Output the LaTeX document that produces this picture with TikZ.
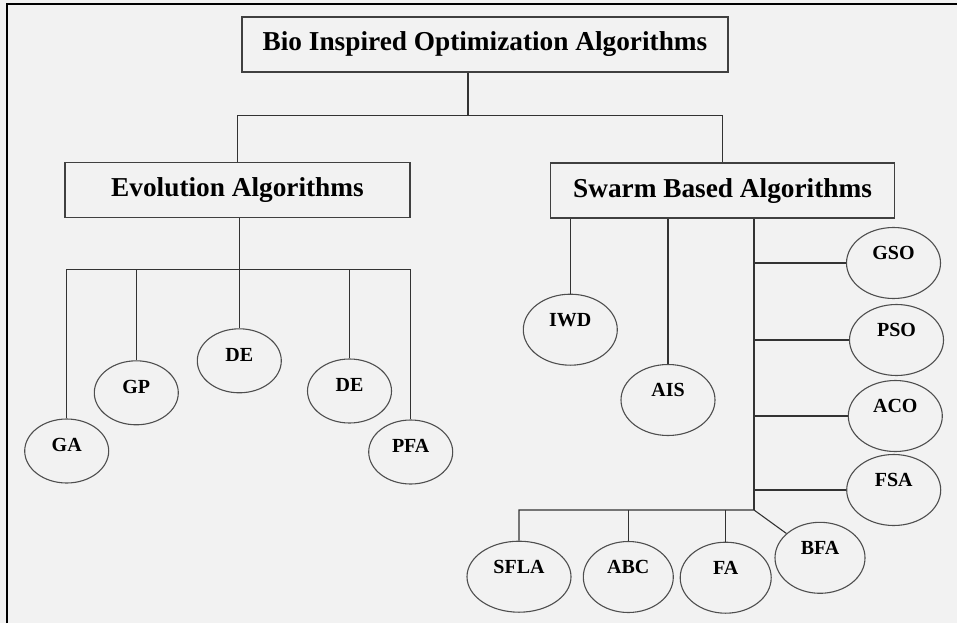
\documentclass[tikz,border=0pt]{standalone}
\usepackage{fontspec}
\setmainfont{Liberation Serif}
\usetikzlibrary{shapes.geometric,positioning}
\definecolor{paper}{HTML}{F2F2F2}
\definecolor{boxgray}{HTML}{404040}
\definecolor{wiregray}{HTML}{333333}
\definecolor{rimgray}{HTML}{4E4E4E}
\begin{document}
\begin{tikzpicture}[x=1pt, y=-1pt,
    head/.style = {rectangle, draw=boxgray, line width=1.3pt, inner sep=0pt,
        font=\bfseries\fontsize{27.3}{31}\selectfont, minimum height=55pt},
    leaf/.style = {ellipse, draw=rimgray, line width=1.1pt, inner sep=3pt,
        font=\bfseries\fontsize{20}{23}\selectfont, minimum width=94pt,
        minimum height=71pt, text height=13.5pt, text depth=20.9pt},
    eleaf/.style = {leaf, minimum width=84pt, minimum height=64pt, text depth=12.9pt},
    wire/.style = {draw=wiregray, line width=1.1pt}]
  \useasboundingbox (0,0) rectangle (957,623);
  \fill[paper] (0,0) rectangle (957,623);
  \draw[line width=2pt] (7,623) -- (7,4.5) -- (957,4.5);

  \node[head, minimum width=486pt] (bio) at (485,44.5) {Bio Inspired Optimization Algorithms};
  \node[head, minimum width=345pt] (evo) at (237.5,190.2) {Evolution Algorithms};
  \node[head, minimum width=344pt] (swarm) at (722.5,190.6) {Swarm Based Algorithms};
  \coordinate (hub) at (468,115.7);
  \draw[wire] (bio.south -| hub) -- (hub);
  \draw[wire] (evo.north) |- (hub) -| (swarm.north);

  \node[eleaf] (ga) at (66.7,451) {GA}; \node[eleaf] (gp) at (136.3,392.8) {GP};
  \node[eleaf] (de1) at (239.3,360.8) {DE}; \node[eleaf] (de2) at (349.5,391) {DE};
  \node[eleaf] (pfa) at (410.7,452) {PFA};
  \coordinate (ebar) at (239.3,269.3);
  \draw[wire] (evo.south -| de1) -- (de1.north);
  \draw[wire] (ga.north) |- (ebar) -| (pfa.north);
  \draw[wire] (gp.north) -- (gp.north |- ebar);
  \draw[wire] (de2.north) -- (de2.north |- ebar);

  \node[leaf] (iwd) at (570.3,329.7) {IWD}; \node[leaf] (ais) at (668,400) {AIS};
  \node[leaf] (gso) at (893.5,263) {GSO}; \node[leaf] (pso) at (896.5,340) {PSO};
  \node[leaf] (aco) at (895.3,416) {ACO}; \node[leaf] (fsa) at (893.7,490) {FSA};
  \node[leaf, minimum width=104pt] (sfla) at (519,576.7) {SFLA};
  \node[leaf, minimum width=90pt] (abc) at (628.3,577) {ABC};
  \node[leaf, minimum width=91pt] (fa) at (725.7,577.7) {FA};
  \node[leaf, minimum width=90pt] (bfa) at (820,557.8) {BFA};
  \coordinate (trunk) at (754,510);
  \draw[wire] (iwd.north) -- (iwd.north |- swarm.south);
  \draw[wire] (ais.north) -- (ais.north |- swarm.south);
  \draw[wire] (trunk |- swarm.south) -- (trunk);
  \draw[wire] (gso.west) -- (gso.west -| trunk);
  \draw[wire] (pso.west) -- (pso.west -| trunk);
  \draw[wire] (aco.west) -- (aco.west -| trunk);
  \draw[wire] (fsa.west) -- (fsa.west -| trunk);
  \draw[wire] (sfla.north) |- (trunk) -- (bfa);
  \draw[wire] (abc.north) -- (abc.north |- trunk);
  \draw[wire] (fa.north) -- (fa.north |- trunk);
\end{tikzpicture}
\end{document}
